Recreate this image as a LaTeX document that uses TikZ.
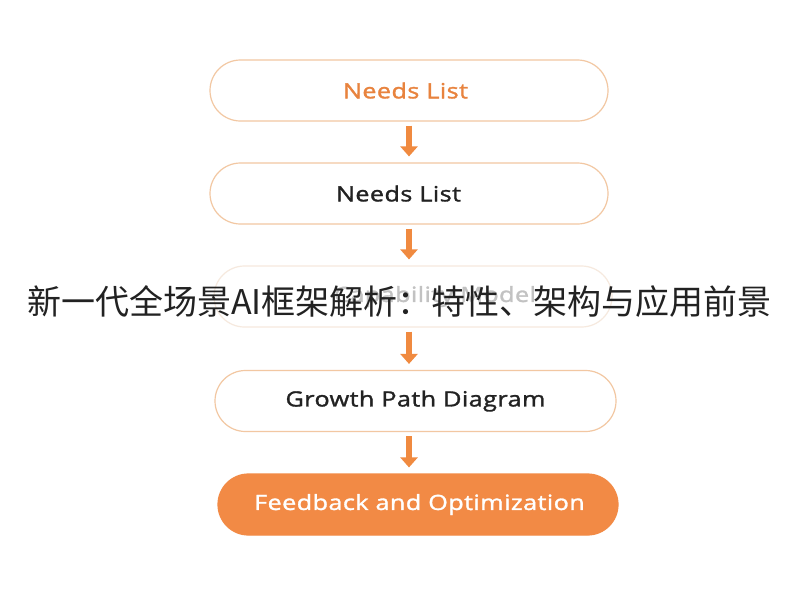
\documentclass[tikz,border=0pt]{standalone}
\usepackage{fontspec}
\setmainfont{Open Sans}
\newfontfamily\boxfont{Open Sans}[FakeStretch=1.2, LetterSpace=2, FakeBold=1.5]
\newfontfamily\cjk{Noto Sans CJK SC}
\usetikzlibrary{arrows.meta}
\definecolor{borderor}{HTML}{F2C7A2}
\definecolor{arrowor}{HTML}{F08A40}
\definecolor{fillor}{HTML}{F28A45}
\definecolor{textor}{HTML}{E8833E}
\definecolor{faintb}{HTML}{F6E9DE}
\definecolor{darktext}{HTML}{222222}
\tikzset{
  pill/.style={draw=borderor, line width=1.2pt, rounded corners=30.5pt, minimum height=61pt, fill=white, font=\boxfont\fontsize{21}{25}\selectfont, text=darktext},
  flowarrow/.style={draw=arrowor, line width=5.5pt, -{Triangle[width=17pt,length=10pt]}, shorten <=4pt, shorten >=6pt}
}
\begin{document}
\begin{tikzpicture}[x=1pt,y=-1pt]
\useasboundingbox (0,0) rectangle (800,600);
\fill[white] (0,0) rectangle (800,600);
\node[pill, minimum width=398pt, text=textor] (n1) at (409,90.5) {Needs List\hspace*{7pt}};
\node[pill, minimum width=398pt] (n2) at (409,193.5) {Needs List\hspace*{21pt}};
\node[pill, draw=faintb, minimum width=398pt, text=black!24] (n3) at (413,296.5) {\hspace*{44pt}Capability Model};
\node[pill, minimum width=401pt] (n4) at (415.5,401) {Growth Path Diagram};
\node[pill, draw=fillor, fill=fillor, minimum width=400pt, text=white] (n5) at (418,504.5) {\hspace*{3pt}Feedback and Optimization};
\draw[flowarrow] (n1.south) -- (n1.south |- n2.north);
\draw[flowarrow] (n2.south) -- (n2.south |- n3.north);
\draw[flowarrow] (n2.south |- n3.south) -- (n2.south |- n4.north);
\draw[flowarrow] (n2.south |- n4.south) -- (n2.south |- n5.north);
\node[font=\cjk\fontsize{34}{40}\selectfont, text=darktext] (title) at (399.5,302) {新一代全场景AI框架解析：特性、架构与应用前景};
\end{tikzpicture}
\end{document}
